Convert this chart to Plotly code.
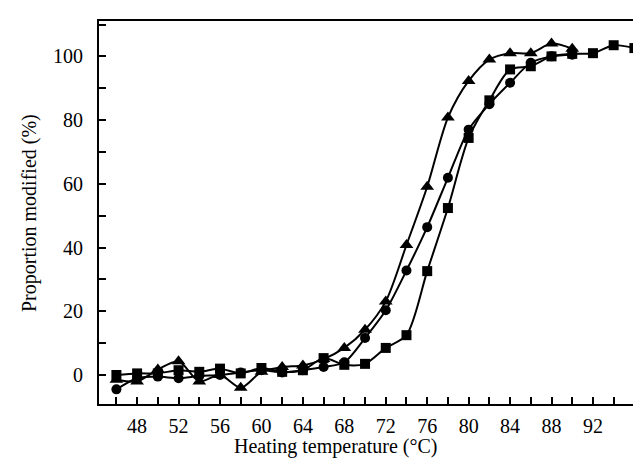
import plotly.graph_objects as go

temps_sq = [46, 48, 50, 52, 54, 56, 58, 60, 62, 64, 66, 68, 70, 72, 74, 76, 78, 80, 82, 84, 86, 88, 90, 92, 94, 96]
squares = [0, 0.5, 0.5, 1.5, 1, 2, 0.5, 2.2, 1, 1.5, 5.3, 3.2, 3.5, 8.5, 12.5, 32.6, 52.4, 74.4, 86.2, 95.9, 96.9, 100, 100.8, 101, 103.5, 102.6]

temps_ci = [46, 48, 50, 52, 54, 56, 58, 60, 62, 64, 66, 68, 70, 72, 74, 76, 78, 80, 82, 84, 86, 88, 90]
circles = [-4.5, -1, -0.5, -1, -0.3, 0, 0.8, 1.5, 0.8, 1.5, 2.5, 4, 11.6, 20.3, 32.8, 46.4, 61.9, 77, 85, 91.7, 98, 100, 100.5]

temps_tr = [46, 48, 50, 52, 54, 56, 58, 60, 62, 64, 66, 68, 70, 72, 74, 76, 78, 80, 82, 84, 86, 88, 90]
triangles = [-1.5, -2, 1.7, 4.3, -2, 0, -4, 1, 2.5, 3, 5, 8.5, 14.2, 23.1, 40.8, 59.1, 80.8, 92.3, 99, 101, 101, 104, 102.4]

x_ticks = [48, 52, 56, 60, 64, 68, 72, 76, 80, 84, 88, 92]
y_ticks = [0, 20, 40, 60, 80, 100]

FONT = "Liberation Serif"
L, R, T, B = 91, 0, 13, 66

fig = go.Figure()
series = [
    (temps_sq, squares, "square", 10),
    (temps_ci, circles, "circle", 10),
    (temps_tr, triangles, "triangle-up", 12),
]
for xs, ys, sym, sz in series:
    fig.add_trace(go.Scatter(
        x=xs, y=ys, mode="lines+markers",
        line=dict(color="black", width=2, shape="spline", smoothing=0.8),
        marker=dict(symbol=sym, size=sz, color="black"),
        showlegend=False, cliponaxis=False,
    ))

fig.update_layout(
    width=641, height=462,
    margin=dict(l=L, r=R, t=T, b=B),
    paper_bgcolor="white", plot_bgcolor="white",
    font=dict(family=FONT, size=20, color="black"),
    xaxis=dict(
        range=[44.32, 97.41], tickmode="array", tickvals=x_ticks,
        ticks="inside", ticklen=7, tickwidth=1.5, tickcolor="black",
        minor=dict(dtick=2, tick0=46, ticks="inside", ticklen=7, tickwidth=1.5, tickcolor="black"),
        showline=True, linecolor="black", linewidth=2, mirror=True,
        showgrid=False, zeroline=False, automargin=False,
        tickfont=dict(family=FONT, size=20),
        ticklabelstandoff=3,
    ),
    yaxis=dict(
        range=[-9.1, 111.1], tickmode="array", tickvals=y_ticks,
        ticks="inside", ticklen=7, tickwidth=1.5, tickcolor="black",
        minor=dict(dtick=10, tick0=0, ticks="inside", ticklen=7, tickwidth=1.5, tickcolor="black"),
        showline=True, linecolor="black", linewidth=2, mirror=False,
        showgrid=False, zeroline=False, automargin=False,
        tickfont=dict(family=FONT, size=20),
        ticklabelstandoff=10,
    ),
)

pw, ph = 641 - L - R, 462 - T - B
titles = [
    ("Heating temperature (°C)", 327, 438, 0),
    ("Proportion modified (%)", 22, 205, -90),
]
for text, px, py, ang in titles:
    fig.add_annotation(text=text, x=(px - L) / pw, y=1 - (py - T) / ph,
                       xref="paper", yref="paper", showarrow=False, textangle=ang,
                       xanchor="center", yanchor="middle",
                       font=dict(family=FONT, size=20))

fig.write_html("out.html")
